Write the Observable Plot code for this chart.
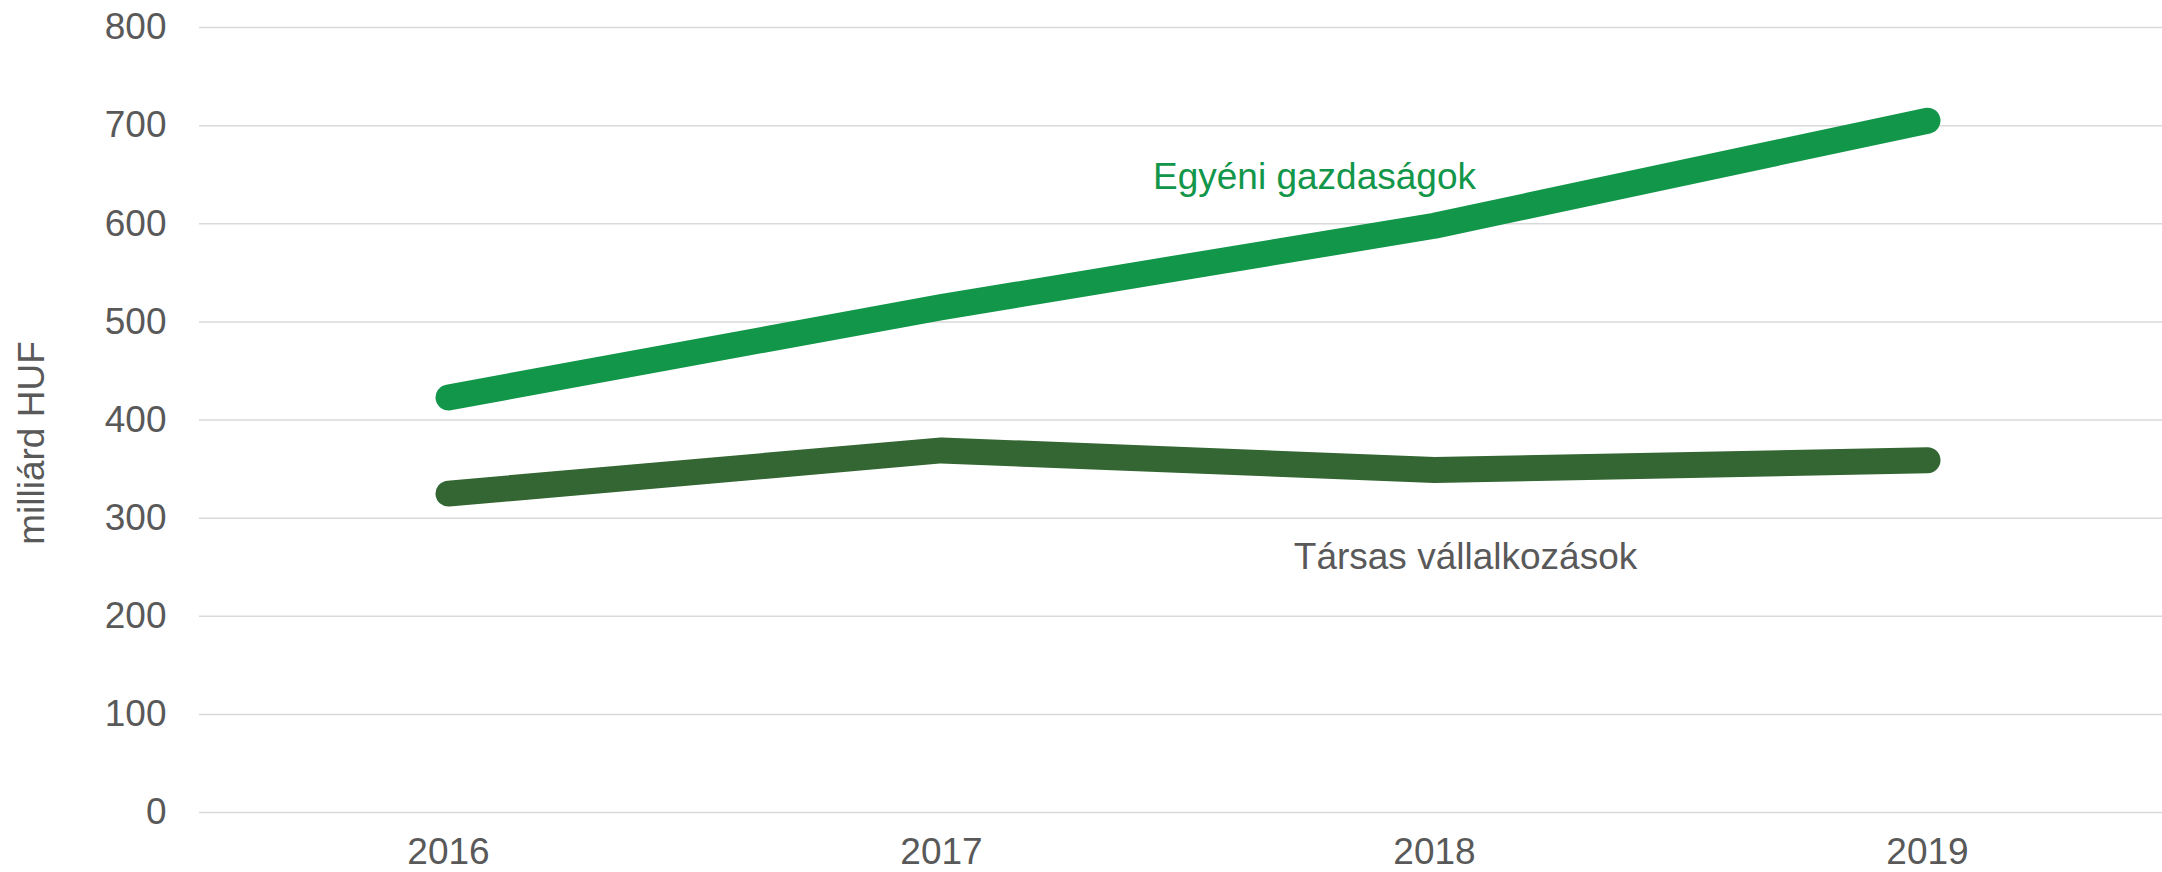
<!DOCTYPE html>
<html>
<head>
<meta charset="utf-8">
<script src="https://cdn.jsdelivr.net/npm/d3@7"></script>
<script src="https://cdn.jsdelivr.net/npm/@observablehq/plot@0.6"></script>
<style>
  html, body { margin: 0; padding: 0; background: #fff; }
  #chart svg { display: block; }
</style>
</head>
<body>
<div id="chart"></div>
<script>
// ---- data ----
const years = ["2016", "2017", "2018", "2019"];
const egyeniValues = [423, 515, 598, 705];   // Egyéni gazdaságok
const tarsasValues = [325, 369, 349, 359];   // Társas vállalkozások
const yTicks = [0, 100, 200, 300, 400, 500, 600, 700, 800];
const seriesNames = ["Egyéni gazdaságok", "Társas vállalkozások"];
const seriesColors = ["#12964a", "#336633"];
const labelColors = ["#12964a", "#595959"];
// label anchor positions in data space (category, value) with pixel nudges
const labelYears = ["2018", "2018"];
const labelValues = [647.5, 260];
const labelDx = [-120, 31];
const yTitle = "milliárd HUF";

const rows = [];
seriesNames.forEach((s, si) => {
  const vals = si === 0 ? egyeniValues : tarsasValues;
  years.forEach((y, i) => rows.push({series: s, year: y, value: vals[i]}));
});
const labels = seriesNames.map((s, i) => ({
  text: s, year: labelYears[i], value: labelValues[i], dx: labelDx[i], color: labelColors[i]
}));

const font = "'Liberation Sans', Arial, Helvetica, sans-serif";

const chart = Plot.plot({
  width: 2162,
  height: 872,
  marginLeft: 199,
  marginRight: 0,
  marginTop: 27,
  marginBottom: 60,
  style: {fontFamily: font, fontSize: "37px", color: "#595959", background: "#fff"},
  x: {type: "point", domain: years, range: [448, 1927], padding: 0},
  y: {domain: [0, 800]},
  color: {domain: seriesNames, range: seriesColors},
  marks: [
    Plot.gridY(yTicks, {stroke: "#d9d9d9", strokeOpacity: 1, strokeWidth: 1.5}),
    Plot.axisY(yTicks, {tickSize: 0, tickPadding: 33, fill: "#595959", fontSize: 37, label: null}),
    Plot.axisX({tickSize: 0, tickPadding: 25, fill: "#595959", fontSize: 37, label: null}),
    Plot.line(rows, {
      x: "year", y: "value", z: "series", stroke: "series",
      strokeWidth: 26, strokeLinecap: "round", strokeLinejoin: "round"
    }),
    ...labels.map(l => Plot.text([l], {
      x: "year", y: "value", text: "text", dx: l.dx, fill: l.color,
      fontSize: 37, textAnchor: "middle", lineAnchor: "middle"
    })),
    Plot.text([yTitle], {
      frameAnchor: "left", rotate: -90, dx: -167.5, dy: 23,
      fill: "#595959", fontSize: 37, textAnchor: "middle", lineAnchor: "middle"
    })
  ]
});
document.getElementById("chart").appendChild(chart);
</script>
</body>
</html>
